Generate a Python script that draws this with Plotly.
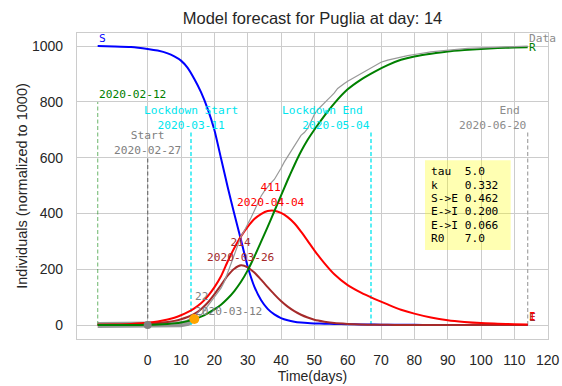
import plotly.graph_objects as go

title_text = "Model forecast for Puglia at day: 14"

# model curves (days relative to 2020-02-27)
model_days = [-15, -10, -5, 0, 3, 6, 8, 10, 12, 14, 16, 18, 20, 22, 24, 26, 28, 30, 32, 34, 36, 38, 40,
              42, 44, 46, 48, 50, 53, 56, 60, 64, 68, 72, 76, 80, 85, 90, 95, 100, 105, 110, 114]
S_vals = [1000, 999, 997, 990, 984, 974, 963, 948, 922, 882, 835, 775, 700, 598, 495, 398, 305, 210, 138,
          90, 58, 38, 25, 17, 12, 9, 7, 6, 5, 4, 3, 2, 2, 1, 1, 1, 0, 0, 0, 0, 0, 0, 0]
E_vals = [1, 1, 2, 4, 7, 11, 15, 21, 29, 40, 57, 80, 110, 143, 177, 202, 214, 207, 188, 163, 136, 110, 86,
          66, 50, 37, 27, 19, 12, 7, 4, 2, 1, 1, 0, 0, 0, 0, 0, 0, 0, 0, 0]
I_vals = [1, 2, 4, 8, 13, 20, 26, 35, 46, 60, 78, 103, 135, 175, 228, 276, 318, 352, 380, 398, 409, 410, 402,
          387, 365, 335, 302, 268, 222, 182, 143, 116, 94, 74, 55, 41, 27, 17, 11, 7, 5, 3, 2]
R_vals = [0, 0, 0, 1, 2, 4, 6, 9, 14, 21, 30, 42, 56, 73, 95, 122, 155, 196, 245, 298, 352, 408, 464,
          520, 573, 622, 664, 700, 750, 795, 845, 880, 908, 932, 951, 963, 973, 981, 986, 990, 993, 995, 996]

# observed data (normalized)
data_days = [14, 15, 16, 17, 18, 19, 20, 21, 22, 23, 24, 25, 26, 27, 28, 29, 30, 31, 32, 33, 34, 35,
             36, 37, 38, 39, 40, 41, 42, 43, 44, 45, 46, 47, 48, 49, 50, 51, 52, 53, 54, 55, 56, 57,
             58, 59, 60, 62, 64, 66, 68, 70, 72, 74, 76, 78, 80, 82, 85, 88, 92, 96, 100, 104, 108,
             111, 114]
data_vals = [22, 28, 36, 52, 70, 84, 100, 115, 132, 155, 185, 220, 252, 285, 318, 338, 360, 385, 410,
             438, 462, 480, 496, 510, 522, 540, 562, 585, 605, 625, 645, 662, 680, 690, 705, 730, 755,
             772, 785, 798, 808, 820, 832, 848, 858, 866, 874, 888, 902, 916, 930, 942, 950, 956, 962,
             966, 970, 974, 979, 983, 988, 992, 994, 995, 997, 998, 1000]
past_days = [-15, -10, -5, 0, 4, 8, 10, 12, 13, 14]
past_vals = [0, 0, 0, 0, 0, 1, 3, 8, 13, 22]

current_day, current_val = 14, 22
start_day, start_val = 0, 0

# event lines: day, top value, colour, label lines, label colour, alignment
events = [
    (-15, 800, "rgba(0,128,0,0.45)", ["2020-02-12"], "#008000", "left"),
    (0, 600, "#777777", ["Start", "2020-02-27"], "#808080", "center"),
    (13, 690, "#00e5ee", ["Lockdown Start", "2020-03-11"], "#00e5ee", "center"),
    (67, 690, "#00e5ee", ["Lockdown End\u00a0", "2020-05-04"], "#00e5ee", "right"),
    (114, 690, "#aaaaaa", ["End\u00a0", "2020-06-20"], "#8c8c8c", "right"),
]

peaks = [
    (37, 411, "2020-04-04", "#ff0000"),
    (28, 214, "2020-03-26", "#a52a2a"),
]

param_names = ["tau", "k", "S->E", "E->I", "E->I", "R0"]
param_vals = ["5.0", "0.332", "0.462", "0.200", "0.066", "7.0"]
box_x0, box_x1, box_y0, box_y1 = 83.2, 108.9, 269, 591

x_ticks = list(range(0, 121, 10))
y_ticks = [0, 200, 400, 600, 800, 1000]

MONO = "DejaVu Sans Mono"
fig = go.Figure()

# thick past data
fig.add_trace(go.Scatter(x=past_days, y=past_vals, mode="lines",
                         line=dict(color="rgba(128,128,128,0.8)", width=6)))
# event lines
for d, top, col, lines, tcol, al in events:
    fig.add_trace(go.Scatter(x=[d, d], y=[0, top], mode="lines",
                             line=dict(color=col, width=1.3, dash="4px,2.5px")))

for vals, col in [(S_vals, "#0000ff"), (E_vals, "#a52a2a"), (I_vals, "#ff0000"), (R_vals, "#008000")]:
    fig.add_trace(go.Scatter(x=model_days, y=vals, mode="lines",
                             line=dict(color=col, width=2, shape="spline", smoothing=0.6)))

fig.add_trace(go.Scatter(x=data_days, y=data_vals, mode="lines",
                         line=dict(color="#999999", width=1.2)))
fig.add_trace(go.Scatter(x=[start_day], y=[start_val], mode="markers",
                         marker=dict(color="#808080", size=8)))
fig.add_trace(go.Scatter(x=[current_day], y=[current_val], mode="markers",
                         marker=dict(color="#ffa500", size=10)))

ann = []
def A(x, y, text, color, xanchor="left", yanchor="bottom", align="left", **kw):
    ann.append(dict(x=x, y=y, xref="x", yref="y", text=text, showarrow=False,
                    font=dict(family=MONO, size=11.2, color=color),
                    xanchor=xanchor, yanchor=yanchor, align=align, borderpad=0, **kw))

for d, top, col, lines, tcol, al in events:
    A(d, top, "<br>".join(lines), tcol, xanchor=al, align=al)

for d, v, date, col in peaks:
    A(d, v, f"{v}<br>{date}", col, xanchor="center", align="center")

A(current_day, current_val, f"{current_val}<br>2020-03-12", "#808080")

A(model_days[0], S_vals[0], "S", "#0000ff")
A(model_days[-1], R_vals[-1], "R", "#008000", yanchor="middle")
A(model_days[-1], E_vals[-1], "E", "#a52a2a")
A(model_days[-1], I_vals[-1], "I", "#ff0000")
A(data_days[-1], data_vals[-1], "Data", "#8c8c8c")

# parameter box
fig.add_shape(type="rect", x0=box_x0, x1=box_x1, y0=box_y0, y1=box_y1, xref="x", yref="y",
              fillcolor="rgba(255,255,0,0.3)", line=dict(width=0), layer="above")
step = (box_y1 - box_y0) / 6.7
for i, (n, v) in enumerate(zip(param_names, param_vals)):
    A(box_x0 + 1.5, box_y1 - step * (i + 0.85), f"{n.ljust(5)}{v}", "#000000", yanchor="middle")

fig.update_layout(
    width=562, height=386,
    margin=dict(l=77, r=14, t=33, b=47, autoexpand=False),
    paper_bgcolor="white", plot_bgcolor="white",
    showlegend=False,
    font=dict(family="Liberation Sans, Arial", color="#262626"),
    title=dict(text=title_text, x=0.5, xref="paper", xanchor="center",
               y=1 - 18.6 / 386, yref="container", yanchor="middle",
               font=dict(size=16.5, color="#262626")),
    annotations=ann,
)
fig.update_xaxes(range=[-21.2, 120.1], tickvals=x_ticks, showgrid=True, gridcolor="#cccccc",
                 gridwidth=1, zeroline=False, showline=True, mirror=True, linecolor="#cccccc",
                 linewidth=1.2, tickfont=dict(size=14, color="#262626"), ticks="",
                 ticklabelstandoff=8, automargin=False,
                 title=dict(text="Time(days)", font=dict(size=14, color="#262626"), standoff=0))
fig.update_yaxes(range=[-50, 1047], tickvals=y_ticks, showgrid=True, gridcolor="#cccccc",
                 gridwidth=1, zeroline=False, showline=True, mirror=True, linecolor="#cccccc",
                 linewidth=1.2, tickfont=dict(size=14, color="#262626"), ticks="",
                 ticklabelstandoff=10, automargin=False,
                 title=dict(text="Individuals (normalized to 1000)", font=dict(size=14.5, color="#262626"),
                            standoff=0))

fig.write_html("out.html", config={"displayModeBar": False},
               post_script="document.body.style.margin='0';")
